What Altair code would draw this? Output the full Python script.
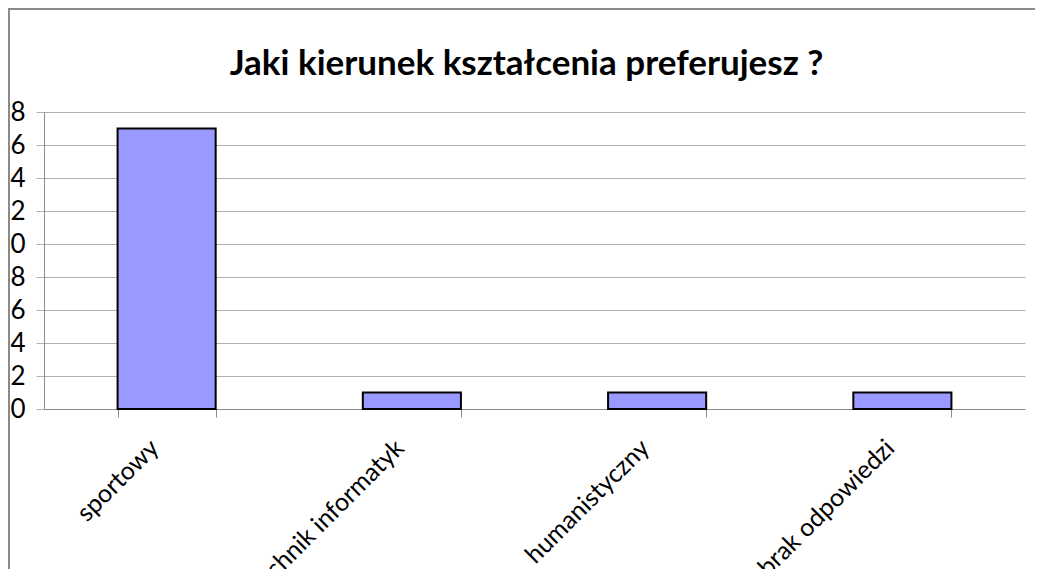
import altair as alt
import pandas as pd

categories = ["sportowy", "technik informatyk", "humanistyczny", "brak odpowiedzi"]
counts = [17, 1, 1, 1]
y_ticks = [0, 2, 4, 6, 8, 10, 12, 14, 16, 18]
title_text = "Jaki kierunek kształcenia preferujesz ?"

df = pd.DataFrame({"kierunek": categories, "liczba": counts})
frame_df = pd.DataFrame({"k": [0]})

W, H = 981, 297
PAD_L, PAD_T, PAD_R, PAD_B = 36, 104, 10, 160
GRAY = "#8a8a8a"

bars = alt.Chart(df).mark_bar(color="#9999FF", stroke="black", strokeWidth=2).encode(
    x=alt.X(
        "kierunek:N",
        sort=categories,
        scale=alt.Scale(paddingInner=0.6, paddingOuter=0.3),
        axis=alt.Axis(
            title=None,
            labelAngle=-45,
            labelAlign="right",
            labelBaseline="top",
            labelFont="Lato",
            labelFontSize=25,
            labelColor="black",
            labelPadding=18,
            labelOffset=-21,
            labelLimit=0,
            labelOverlap=False,
            tickBand="extent",
            tickSize=8,
            tickColor=GRAY,
            domainColor=GRAY,
            grid=False,
        ),
    ),
    y=alt.Y(
        "liczba:Q",
        scale=alt.Scale(domain=[0, 18], nice=False),
        axis=alt.Axis(
            title=None,
            values=y_ticks,
            labelFont="Lato",
            labelFontSize=26,
            labelColor="black",
            labelPadding=11,
            labelOverlap=False,
            tickSize=8,
            tickColor="#b0b0b0",
            domainColor=GRAY,
            grid=True,
            gridColor="#b0b0b0",
            zindex=0,
        ),
    ),
)

frame = alt.Chart(frame_df).mark_rect(fillOpacity=0, stroke=GRAY, strokeWidth=2).encode(
    x=alt.value(-PAD_L + 1),
    x2=alt.value(W + PAD_R + 20),
    y=alt.value(-PAD_T + 1),
    y2=alt.value(H + PAD_B + 20),
)

chart = (
    alt.layer(bars, frame)
    .properties(
        width=W,
        height=H,
        title=alt.TitleParams(
            title_text,
            font="Lato",
            fontSize=35,
            fontWeight="bold",
            color="black",
            anchor="middle",
            baseline="alphabetic",
            dx=-8,
            offset=-102,
        ),
        autosize=alt.AutoSizeParams(type="none"),
        padding={"left": PAD_L, "top": PAD_T, "right": PAD_R, "bottom": PAD_B},
    )
    .configure_view(strokeWidth=0)
)

chart.save("out.html", embed_options={"renderer": "svg", "actions": False})
